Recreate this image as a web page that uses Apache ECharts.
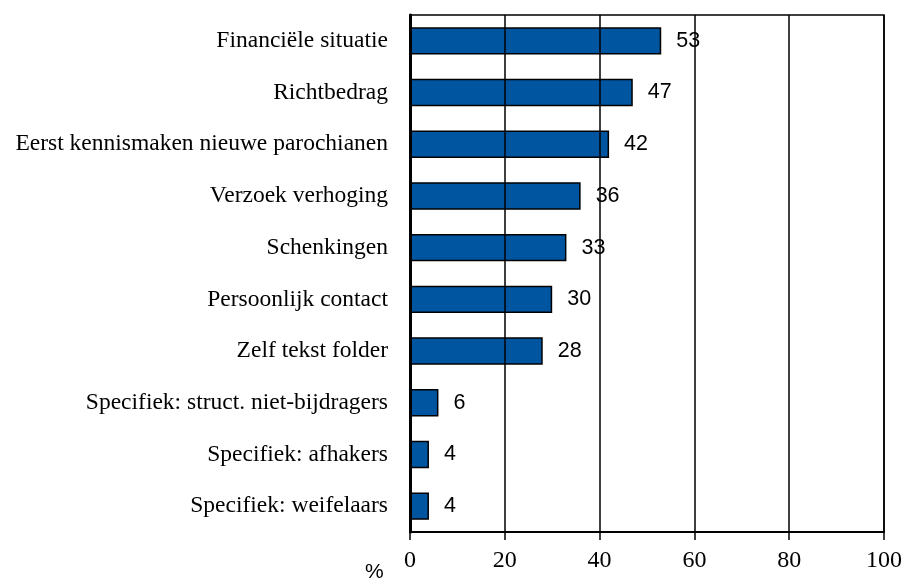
<!DOCTYPE html>
<html><head><meta charset="utf-8">
<script src="https://cdn.jsdelivr.net/npm/echarts@6/dist/echarts.min.js"></script>
<style>html,body{margin:0;padding:0;background:#fff}#c{width:906px;height:580px}</style>
</head><body><div id="c"></div>
<script>
const categories = ["Financiële situatie","Richtbedrag","Eerst kennismaken nieuwe parochianen","Verzoek verhoging","Schenkingen","Persoonlijk contact","Zelf tekst folder","Specifiek: struct. niet-bijdragers","Specifiek: afhakers","Specifiek: weifelaars"];
const values = [53,47,42,36,33,30,28,6,4,4];
const xTicks = [0,20,40,60,80,100];

const chart = echarts.init(document.getElementById('c'), null, {renderer:'canvas'});
chart.setOption({
  animation:false,
  backgroundColor:'#fff',
  grid:{left:410, right:22, top:15, bottom:48, containLabel:false,
        show:true, borderColor:'#000', borderWidth:1.5},
  graphic:[{type:'text', left:365, top:562, style:{text:'%', font:'21px "Liberation Sans", Arial, sans-serif', fill:'#000'}}],
  xAxis:{type:'value', min:xTicks[0], max:xTicks[xTicks.length-1], interval:20, z:10,
    axisLine:{show:true, lineStyle:{color:'#000', width:2}},
    axisTick:{show:true, length:8, lineStyle:{color:'#000', width:1.5}},
    splitLine:{show:true, lineStyle:{color:'#000', width:1.5}},
    axisLabel:{color:'#000', fontFamily:'"Liberation Serif", "Times New Roman", serif', fontSize:24, margin:17}},
  yAxis:{type:'category', data:categories, inverse:true, z:10,
    axisLine:{show:true, lineStyle:{color:'#000', width:3}},
    axisTick:{show:false},
    axisLabel:{color:'#000', fontFamily:'"Liberation Serif", "Times New Roman", serif', fontSize:23.5, margin:22}},
  series:[{type:'bar', data:values, barCategoryGap:'47%',
    itemStyle:{color:'#0055A0', borderColor:'#000', borderWidth:1.5},
    label:{show:true, position:'right', distance:15, color:'#000',
      fontFamily:'"Liberation Sans", Arial, sans-serif', fontSize:21.5}}]
});
</script></body></html>
